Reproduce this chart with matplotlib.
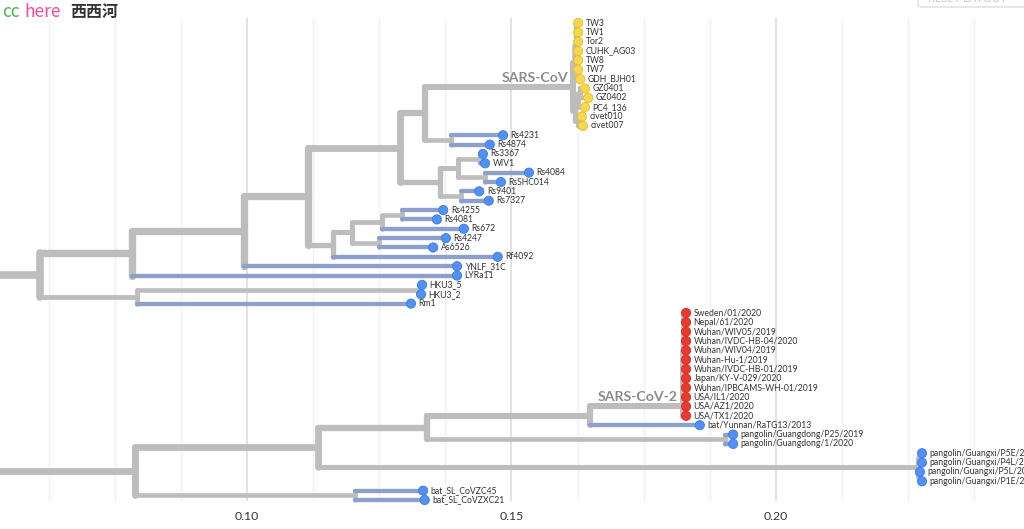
import numpy as np
import matplotlib.pyplot as plt
from matplotlib.collections import LineCollection
from matplotlib.patches import FancyBboxPatch

plt.rcParams['font.family'] = ['Lato', 'DejaVu Sans']

# (node, parent, divergence) -- tips are the nodes that are nobody's parent
backbone_upper = [
    ('root', None, 0.0), ('A', 'root', 0.0609), ('B', 'A', 0.0783), ('D', 'B', 0.0994),
    ('E', 'D', 0.1115), ('F', 'E', 0.1289), ('H', 'F', 0.1336),
]
sars_cov = [
    ('SARS', 'H', 0.1616), ('S1', 'SARS', 0.1620), ('S1a', 'S1', 0.1622),
    ('TW3', 'S1a', 0.1626), ('TW1', 'S1a', 0.1626), ('Tor2', 'S1a', 0.1626),
    ('CUHK_AG03', 'S1a', 0.1626), ('TW8', 'S1a', 0.1626), ('TW7', 'S1a', 0.1626),
    ('GDH_BJH01', 'S1', 0.1630), ('S2', 'SARS', 0.1620), ('S2a', 'S2', 0.1626),
    ('GZ', 'S2a', 0.1630), ('GZ0401', 'GZ', 0.1639), ('GZ0402', 'GZ', 0.1645),
    ('PC4_136', 'S2a', 0.1639), ('CIV', 'S2', 0.1626), ('civet010', 'CIV', 0.1633),
    ('civet007', 'CIV', 0.1635),
]
bat_sarsr = [
    ('n4231', 'H', 0.1386), ('Rs4231', 'n4231', 0.1484), ('Rs4874', 'n4231', 0.1459),
    ('I', 'F', 0.1365), ('J', 'I', 0.1399), ('nWIV', 'J', 0.1440),
    ('Rs3367', 'nWIV', 0.1446), ('WIV1', 'nWIV', 0.1450), ('nSHC', 'J', 0.1450),
    ('Rs4084', 'nSHC', 0.1533), ('RsSHC014', 'nSHC', 0.1480), ('K', 'I', 0.1405),
    ('Rs9401', 'K', 0.1439), ('Rs7327', 'K', 0.1457),
    ('G', 'E', 0.1163), ('L', 'G', 0.1198), ('M', 'L', 0.1255), ('M1', 'M', 0.1293),
    ('Rs4255', 'M1', 0.1371), ('Rs4081', 'M1', 0.1359), ('Rs672', 'M', 0.1410),
    ('N', 'L', 0.1250), ('Rs4247', 'N', 0.1376), ('As6526', 'N', 0.1352),
    ('Rf4092', 'G', 0.1474), ('YNLF_31C', 'D', 0.1397), ('LYRa11', 'B', 0.1397),
    ('C', 'A', 0.0792), ('nHKU3', 'C', 0.1325), ('HKU3_5', 'nHKU3', 0.1331),
    ('HKU3_2', 'nHKU3', 0.1329), ('Rm1', 'C', 0.1310),
]
backbone_lower = [
    ('A2', 'root', 0.0788), ('P', 'A2', 0.1134), ('Q', 'P', 0.1340), ('R', 'Q', 0.1648),
]
cov2_tips = ['Sweden/01/2020', 'Nepal/61/2020', 'Wuhan/WIV05/2019', 'Wuhan/IVDC-HB-04/2020',
             'Wuhan/WIV04/2019', 'Wuhan-Hu-1/2019', 'Wuhan/IVDC-HB-01/2019',
             'Japan/KY-V-029/2020', 'Wuhan/IPBCAMS-WH-01/2019', 'USA/IL1/2020',
             'USA/AZ1/2020', 'USA/TX1/2020']
cov2_node_div = 0.1824
cov2_tip_div = 0.1830
related_cov2 = [
    ('bat/Yunnan/RaTG13/2013', 'R', 0.1856),
    ('nPGD', 'Q', 0.1904), ('pangolin/Guangdong/P25/2019', 'nPGD', 0.1919),
    ('pangolin/Guangdong/1/2020', 'nPGD', 0.1919),
    ('GX', 'P', 0.2268), ('GXa', 'GX', 0.2272),
    ('pangolin/Guangxi/P5E/2017', 'GXa', 0.2276), ('pangolin/Guangxi/P4L/2017', 'GXa', 0.2276),
    ('GXb', 'GX', 0.2272),
    ('pangolin/Guangxi/P5L/2017', 'GXb', 0.2272), ('pangolin/Guangxi/P1E/2017', 'GXb', 0.2276),
    ('nZC', 'A2', 0.1204), ('bat_SL_CoVZC45', 'nZC', 0.1333), ('bat_SL_CoVZXC21', 'nZC', 0.1336),
]
clade_labels = {'SARS': 'SARS-CoV', 'c11': 'SARS-CoV-2'}

# SARS-CoV-2 genomes hang off a ladder of zero-length nodes
ladder = [('c%d' % k, 'R' if k == len(cov2_tips) - 1 else 'c%d' % (k + 1), cov2_node_div)
          for k in range(len(cov2_tips) - 1, 0, -1)]
ladder += [(t, 'c%d' % max(i, 1), cov2_tip_div) for i, t in enumerate(cov2_tips)]

nodes = backbone_upper + sars_cov + bat_sarsr + backbone_lower + ladder + related_cov2
div = {n: d for n, p, d in nodes}
parent = {n: p for n, p, d in nodes}
children = {n: [] for n, p, d in nodes}
for n, p, d in nodes:
    if p is not None:
        children[p].append(n)

ypos = {}
ntips = {}
order = []


def layout(n):
    if not children[n]:
        ypos[n] = len(order)
        ntips[n] = 1
        order.append(n)
        return
    for c in children[n]:
        layout(c)
    ypos[n] = np.mean([ypos[c] for c in children[n]])
    ntips[n] = sum(ntips[c] for c in children[n])


layout('root')


def tip_colour(n):
    if n in cov2_tips:
        return '#ea3a2e', '#d22c22'
    if parent[n] in ('S1a', 'S1', 'GZ', 'S2a', 'CIV'):
        return '#f6d84a', '#e2bd35'
    return '#5190f5', '#3d7ae0'


def stroke(n):
    return (3.6 + 4.0 * np.sqrt(ntips[n] / 31.0)) * 0.72


GREY = '#bdbdbd'
BLUE_BR = '#8ca0cb'

fig = plt.figure(figsize=(10.24, 5.29), dpi=100)
ax = fig.add_axes([0, 1 - 505 / 529, 1, 505 / 529])
ax.set_xlim(0.10 - 247 / 5290, 0.10 + 777 / 5290)
ax.set_ylim((505 - 23) / 9.353, -23 / 9.353)
for s in ax.spines.values():
    s.set_visible(False)
ax.set_yticks([])

for g in np.arange(0.05, 0.2501, 0.0125):
    major = abs(g / 0.05 - round(g / 0.05)) < 1e-6
    ax.axvline(g, ymin=0.01, ymax=0.962, color='#e2e2e2' if major else '#f0f0f0',
               lw=1.4 if major else 1.0, zorder=0)

ax.set_xticks([0.10, 0.15, 0.20])
ax.set_xticklabels(['0.10', '0.15', '0.20'], fontsize=8.8, color='#333333')
ax.tick_params(axis='x', length=0, pad=4)

grey_segs, grey_w = [], []
blue_segs, blue_w = [], []
for n, p, d in nodes:
    if p is not None:
        seg = [(div[p], ypos[n]), (d, ypos[n])]
        if not children[n] and tip_colour(n)[0] == '#5190f5':
            blue_segs.append(seg)
            blue_w.append(stroke(n))
        else:
            grey_segs.append(seg)
            grey_w.append(stroke(n))
    if children[n] and p is not None:
        ys = [ypos[c] for c in children[n]]
        grey_segs.append([(d, min(ys)), (d, max(ys))])
        grey_w.append(stroke(n))

ax.add_collection(LineCollection(grey_segs, colors=GREY, linewidths=grey_w,
                                 capstyle='round', zorder=2, clip_on=False))
ax.add_collection(LineCollection(blue_segs, colors=BLUE_BR, linewidths=blue_w,
                                 capstyle='round', zorder=3, clip_on=False))

tips = order
ax.scatter([div[t] for t in tips], [ypos[t] for t in tips], s=44,
           c=[tip_colour(t)[0] for t in tips], edgecolors=[tip_colour(t)[1] for t in tips],
           linewidths=0.6, zorder=4, clip_on=False)
for t in tips:
    ax.annotate(t, (div[t], ypos[t]), xytext=(5.5, 0), textcoords='offset points',
                va='center', ha='left', fontsize=6.2, color='#333333', zorder=5,
                annotation_clip=False)

for n, lab in clade_labels.items():
    ax.annotate(lab, (div[n], ypos[n]), xytext=(-3.5, 6.5), textcoords='offset points',
                ha='right', va='center', fontsize=10.2, fontweight='bold', color='#8c8c8c',
                zorder=5)

# watermark and the cut-off layout button
fig.text(2 / 1024, 1 - 12 / 529, 'cc', color='#4caf50', fontsize=12.5, va='center',
         family=['Noto Sans CJK SC', 'DejaVu Sans'])
fig.text(24 / 1024, 1 - 12 / 529, 'here', color='#f04aa0', fontsize=12.5, va='center',
         family=['Noto Sans CJK SC', 'DejaVu Sans'])
fig.text(70 / 1024, 1 - 12 / 529, '西西河', color='#333333', fontsize=11.5, va='center',
         fontweight='bold', family=['Noto Sans CJK SC', 'DejaVu Sans'])
fig.patches.append(FancyBboxPatch((918 / 1024, 1 - 7 / 529), 0.2, 0.05,
                                  boxstyle='round,pad=0,rounding_size=0.004',
                                  transform=fig.transFigure, facecolor='white',
                                  edgecolor='#dddddd', lw=1))
fig.text(928 / 1024, 1 - 2 / 529, 'RESET LAYOUT', color='#c8c8c8', fontsize=8,
         va='baseline')

fig.savefig('out.png', dpi=100)
